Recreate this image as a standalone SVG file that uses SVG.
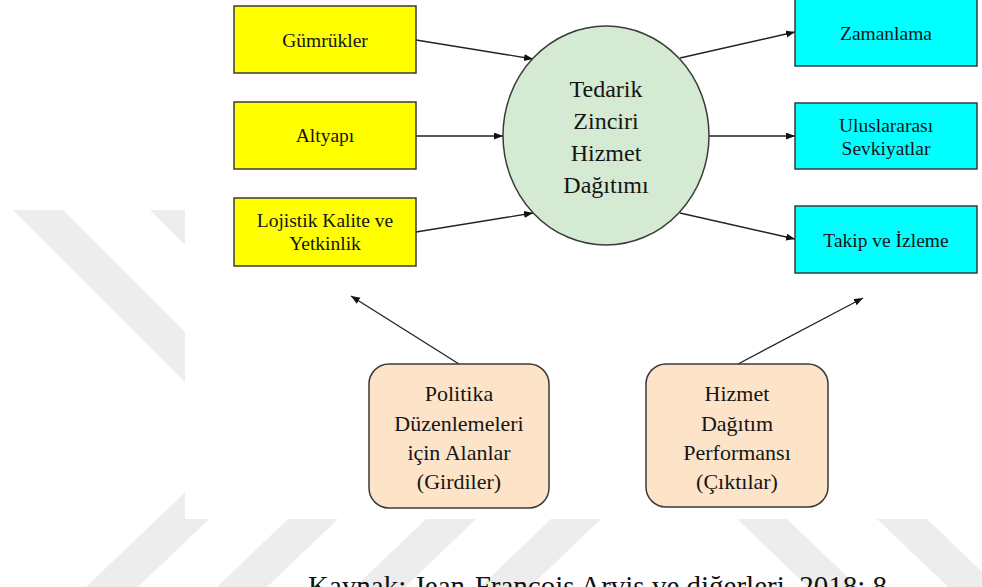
<svg xmlns="http://www.w3.org/2000/svg" width="982" height="587" viewBox="0 0 982 587" font-family="Liberation Serif, Times New Roman, serif">
<style>
  .wm { fill: #ededed; }
  .box { stroke: #3a3a3a; stroke-width: 1.5; }
  .in { fill: #ffff00; }
  .out { fill: #00ffff; }
  .pol { fill: #fde4c8; }
  .t { fill: #151515; text-anchor: middle; }
  .s20 { font-size: 19.5px; }
  .s24 { font-size: 24px; }
  .s22 { font-size: 22px; }
  .conn line { stroke: #222; stroke-width: 1.3; marker-end: url(#ah); }
</style>
<defs>
  <marker id="ah" markerUnits="userSpaceOnUse" markerWidth="10" markerHeight="8" refX="9" refY="3.5" orient="auto">
    <path d="M0,0 L9,3.5 L0,7 z" fill="#111"/>
  </marker>
</defs>
<rect x="0" y="0" width="982" height="587" fill="#ffffff"/>
<g id="watermark">
  <polygon class="wm" points="13,210 63,210 210,357 210,407"/>
  <polygon class="wm" points="150,210 210,210 260,260 200,260"/>
  <polygon class="wm" points="86,587 138,587 250,480 198,480"/>
  <polygon class="wm" points="217,587 267,587 338,519 288,519"/>
  <polygon class="wm" points="355,587 405,587 476,519 426,519"/>
  <polygon class="wm" points="480,587 530,587 601,519 551,519"/>
  <polygon class="wm" points="737,519 787,519 858,587 808,587"/>
  <polygon class="wm" points="877,519 927,519 998,587 948,587"/>
</g>
<rect x="185" y="0" width="797" height="519" fill="#ffffff"/>

<g id="connectors" class="conn">
  <line x1="416" y1="40" x2="533" y2="59"/>
  <line x1="416" y1="136" x2="503" y2="136"/>
  <line x1="416" y1="232" x2="533" y2="213"/>
  <line x1="680" y1="58" x2="795" y2="32"/>
  <line x1="709" y1="136" x2="795" y2="136"/>
  <line x1="680" y1="213" x2="795" y2="239"/>
  <line x1="459" y1="364" x2="351" y2="296"/>
  <line x1="738" y1="364" x2="863" y2="298"/>
</g>

<g id="gumrukler">
  <rect class="box in" x="234" y="6" width="182" height="67"/>
  <text class="t s20" x="325" y="46.5">Gümrükler</text>
</g>
<g id="altyapi">
  <rect class="box in" x="234" y="102" width="182" height="67"/>
  <text class="t s20" x="325" y="142">Altyapı</text>
</g>
<g id="lojistik">
  <rect class="box in" x="234" y="198" width="182" height="68"/>
  <text class="t s20" x="325" y="227">Lojistik Kalite ve</text>
  <text class="t s20" x="325" y="249.5">Yetkinlik</text>
</g>

<g id="merkez">
  <ellipse cx="606" cy="135.5" rx="103" ry="109.5" fill="#d4ead2" stroke="#3a3a3a" stroke-width="1.5"/>
  <text class="t s24" x="606" y="96.5">Tedarik</text>
  <text class="t s24" x="606" y="128.5">Zinciri</text>
  <text class="t s24" x="606" y="160.5">Hizmet</text>
  <text class="t s24" x="606" y="193">Dağıtımı</text>
</g>

<g id="zamanlama">
  <rect class="box out" x="795" y="-2" width="182" height="68"/>
  <text class="t s20" x="886" y="40">Zamanlama</text>
</g>
<g id="uluslararasi">
  <rect class="box out" x="795" y="103" width="182" height="66"/>
  <text class="t s20" x="886" y="132">Uluslararası</text>
  <text class="t s20" x="886" y="155">Sevkiyatlar</text>
</g>
<g id="takip">
  <rect class="box out" x="795" y="206" width="182" height="67"/>
  <text class="t s20" x="886" y="247">Takip ve İzleme</text>
</g>

<g id="politika">
  <rect class="box pol" x="369" y="364" width="180" height="144" rx="20" ry="20"/>
  <text class="t s22" x="459" y="400.5">Politika</text>
  <text class="t s22" x="459" y="430.5">Düzenlemeleri</text>
  <text class="t s22" x="459" y="460">için Alanlar</text>
  <text class="t s22" x="459" y="488.5">(Girdiler)</text>
</g>
<g id="performans">
  <rect class="box pol" x="646" y="364" width="182" height="143" rx="20" ry="20"/>
  <text class="t s22" x="737" y="400.5">Hizmet</text>
  <text class="t s22" x="737" y="430.5">Dağıtım</text>
  <text class="t s22" x="737" y="460">Performansı</text>
  <text class="t s22" x="737" y="488.5">(Çıktılar)</text>
</g>

<text id="kaynak" x="308" y="596" font-size="29" fill="#111">Kaynak: Jean-François Arvis ve diğerleri, 2018: 8</text>
</svg>
